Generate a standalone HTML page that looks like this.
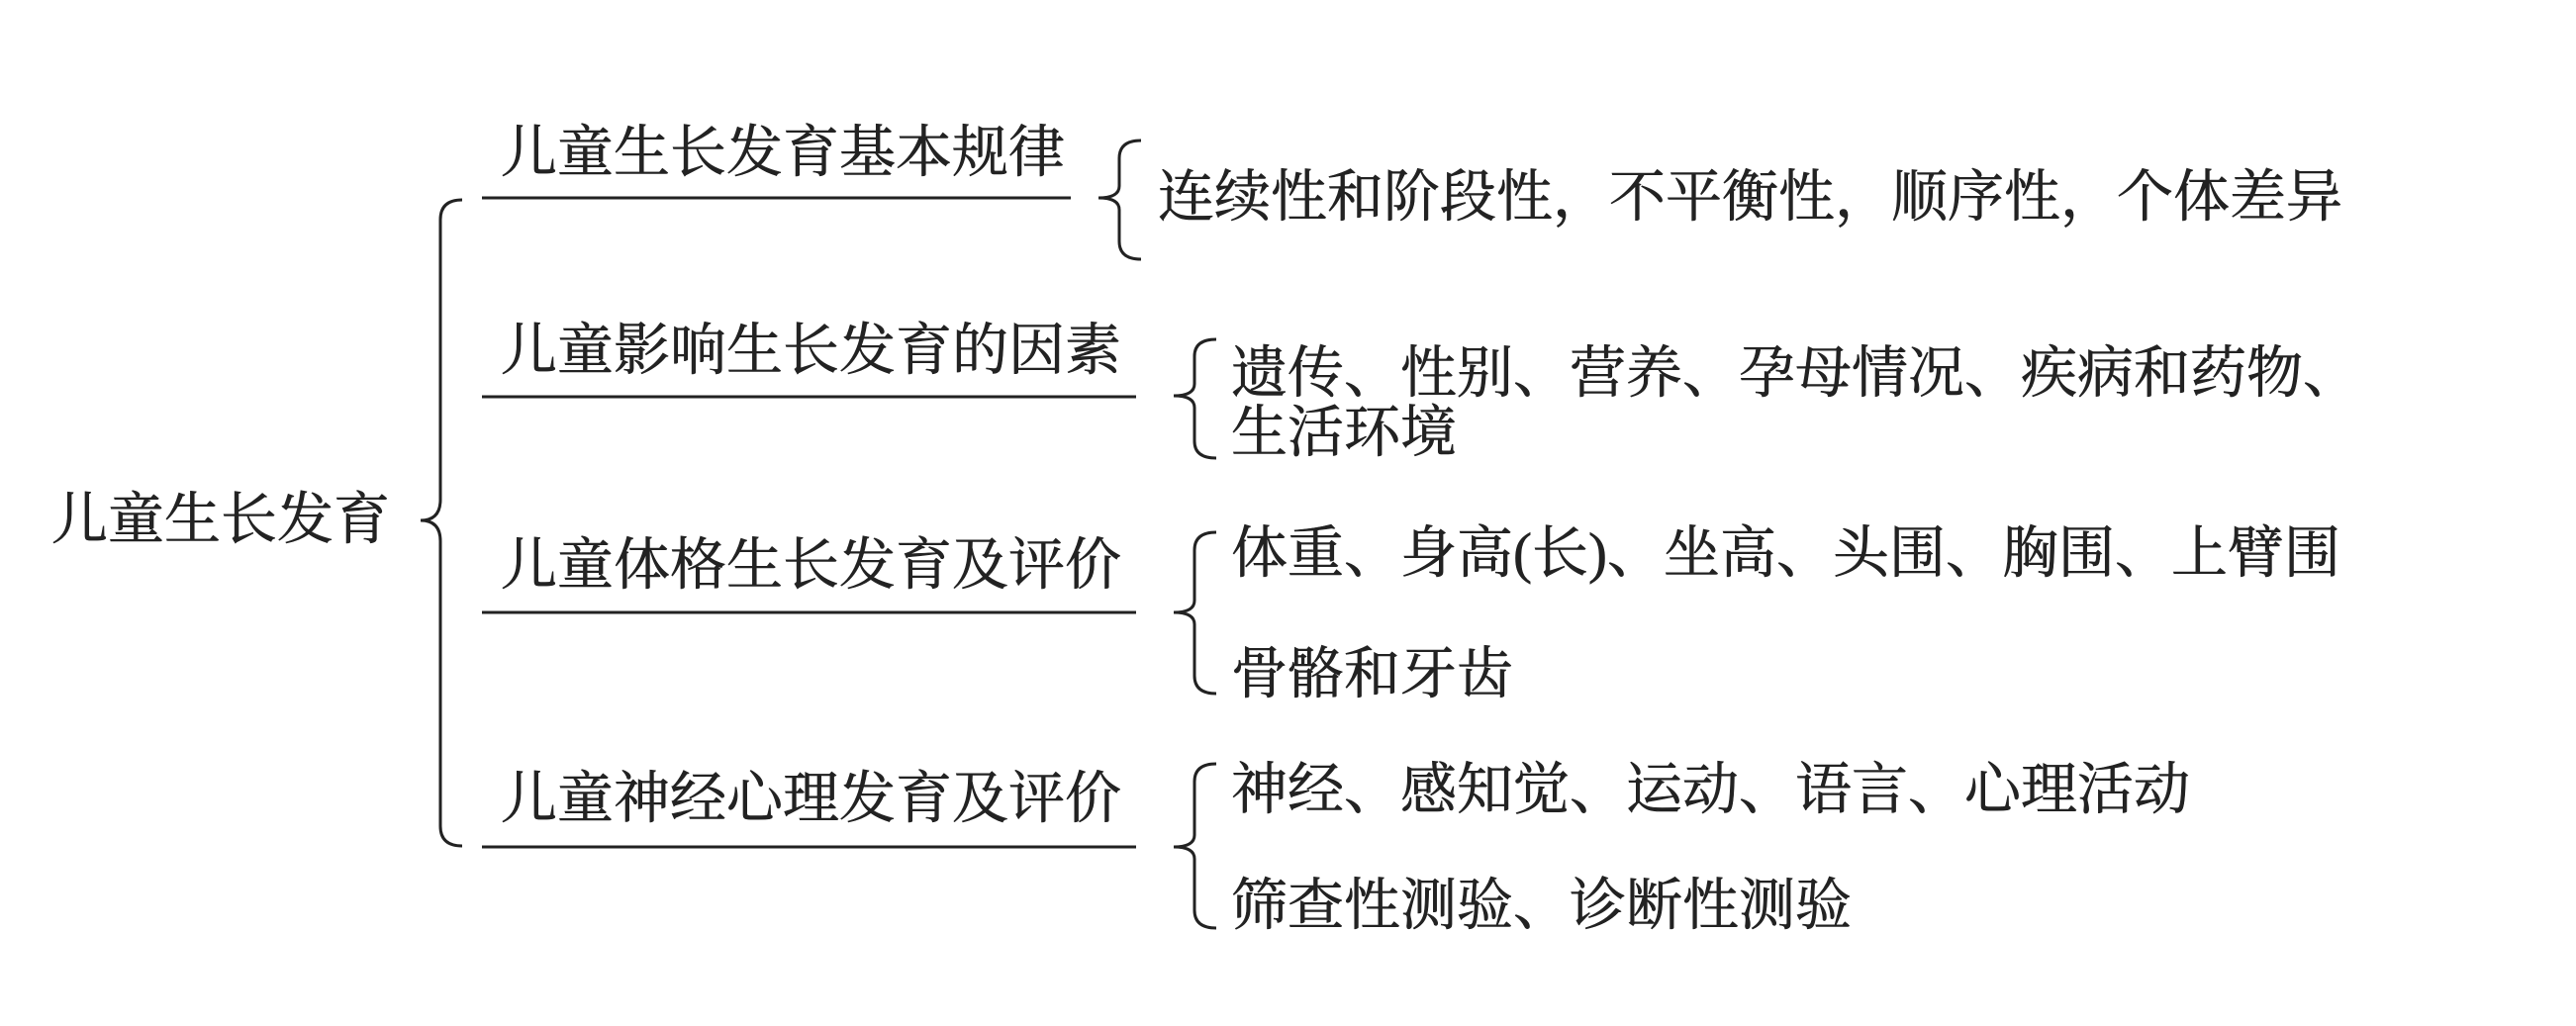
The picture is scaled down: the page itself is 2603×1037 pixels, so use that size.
<!DOCTYPE html>
<html><head><meta charset="utf-8"><style>
html,body{margin:0;padding:0;background:#fff;}
#c{position:relative;width:2603px;height:1037px;overflow:hidden;background:#fff;}
.t{position:absolute;white-space:nowrap;font-family:"Liberation Serif","Noto Serif CJK SC",serif;color:#222;line-height:1;-webkit-text-stroke:0.6px #222;}
svg{position:absolute;left:0;top:0;}
</style></head><body><div id="c">
<svg width="2603" height="1037" fill="none" stroke="#222" stroke-width="3">
<path d="M467,202 Q445,202 445,222 L445,505 Q445,526 425,526 Q445,526 445,547 L445,835 Q445,855 467,855"/>
<line x1="487" y1="200" x2="1082" y2="200"/>
<line x1="487" y1="401" x2="1148" y2="401"/>
<line x1="487" y1="619" x2="1148" y2="619"/>
<line x1="487" y1="856" x2="1148" y2="856"/>
<path d="M1153,142 Q1131,142 1131,160 L1131,188 Q1131,200 1110,200 Q1131,200 1131,212 L1131,244 Q1131,262 1153,262"/>
<path d="M1229,343 Q1207,343 1207,360 L1207,388 Q1207,400 1186,400 Q1207,400 1207,412 L1207,446 Q1207,463 1229,463"/>
<path d="M1229,538 Q1207,538 1207,556 L1207,607 Q1207,619 1186,619 Q1207,619 1207,631 L1207,683 Q1207,701 1229,701"/>
<path d="M1229,772 Q1207,772 1207,790 L1207,844 Q1207,856 1186,856 Q1207,856 1207,868 L1207,920 Q1207,938 1229,938"/>
</svg>
<div class="t" style="left:52px;top:497px;font-size:57px;">儿童生长发育</div>
<div class="t" style="left:506px;top:126px;font-size:57px;">儿童生长发育基本规律</div>
<div class="t" style="left:506px;top:326px;font-size:57px;">儿童影响生长发育的因素</div>
<div class="t" style="left:506px;top:543px;font-size:57px;">儿童体格生长发育及评价</div>
<div class="t" style="left:506px;top:779px;font-size:57px;">儿童神经心理发育及评价</div>
<div class="t" style="left:1170px;top:171px;font-size:57px;">连续性和阶段性，不平衡性，顺序性，个体差异</div>
<div class="t" style="left:1244px;top:349px;font-size:57px;">遗传、性别、营养、孕母情况、疾病和药物、</div>
<div class="t" style="left:1244px;top:409px;font-size:57px;">生活环境</div>
<div class="t" style="left:1244px;top:531px;font-size:57px;">体重、身高(长)、坐高、头围、胸围、上臂围</div>
<div class="t" style="left:1244px;top:653px;font-size:57px;">骨骼和牙齿</div>
<div class="t" style="left:1244px;top:770px;font-size:57px;">神经、感知觉、运动、语言、心理活动</div>
<div class="t" style="left:1244px;top:887px;font-size:57px;">筛查性测验、诊断性测验</div>
</div></body></html>
